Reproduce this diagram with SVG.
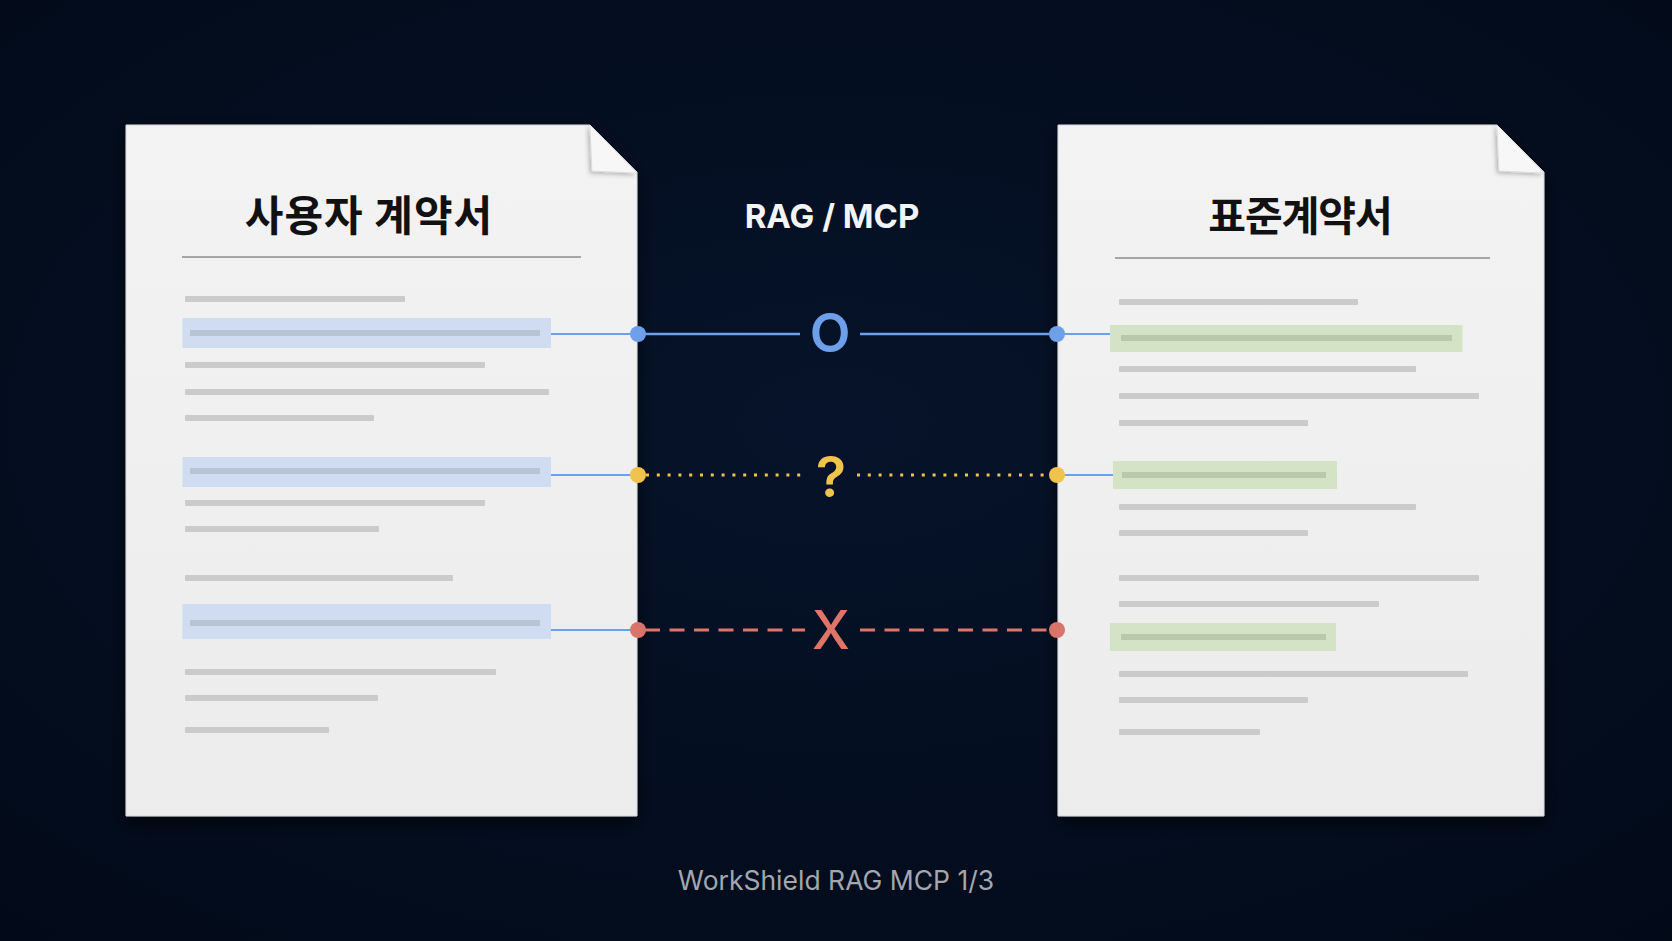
<svg xmlns="http://www.w3.org/2000/svg" width="1672" height="941" viewBox="0 0 1672 941">
<defs>
<radialGradient id="bg" cx="50%" cy="45%" r="75%">
<stop offset="0" stop-color="#06132a"/>
<stop offset="1" stop-color="#020a18"/>
</radialGradient>
<linearGradient id="paper" x1="0" y1="0" x2="0" y2="1">
<stop offset="0" stop-color="#f3f3f3"/>
<stop offset="1" stop-color="#ececec"/>
</linearGradient>
<filter id="shadow" x="-10%" y="-10%" width="120%" height="120%">
<feDropShadow dx="0" dy="6" stdDeviation="9" flood-color="#000" flood-opacity="0.65"/>
</filter>
<filter id="flapShadow" x="-50%" y="-50%" width="200%" height="200%">
<feDropShadow dx="-2" dy="2" stdDeviation="2" flood-color="#000" flood-opacity="0.25"/>
</filter>
</defs>
<style>
.paper{fill:url(#paper);stroke:#d6d6d6;stroke-width:1}
.flap{fill:#f7f7f7;stroke:#dcdcdc;stroke-width:0.8}
.title{font-family:"Noto Sans CJK KR","Noto Sans",sans-serif;font-weight:700;fill:#111;text-anchor:middle}
.rule{stroke:#8c8c8c;stroke-width:1.6}
.ln{fill:#cbcbcb}
.hlb{fill:#cfdcf1}
.hlbi{fill:#b8c3d3}
.hlg{fill:#d4e3c6}
.hlgi{fill:#b7c9a8}
.stub{stroke:#6f9fe6;stroke-width:2;fill:none}
.blue{stroke:#6ea0ea;stroke-width:2.6;fill:none}
.yel{stroke:#f0c44c;stroke-width:3;stroke-dasharray:3 7.8;fill:none}
.red{stroke:#de7568;stroke-width:3;stroke-dasharray:15 9.5;fill:none}
.sym{font-family:Inter,"Liberation Sans",sans-serif;text-anchor:middle}
</style>
<rect width="1672" height="941" fill="url(#bg)"/>

<g id="doc-user">
<path class="paper" filter="url(#shadow)" d="M126,125 L590,125 L637,172 L637,816 L126,816 Z"/>
<path class="flap" filter="url(#flapShadow)" d="M590,125 L592,171 L637,173 Z"/>
<text class="title" x="369" y="231" font-size="42" letter-spacing="1">사용자 계약서</text>
<line class="rule" x1="182" y1="257" x2="581" y2="257"/>
<rect class="ln" x="185" y="296" width="220" height="6" rx="1"/>
<rect class="hlb" x="182.5" y="318" width="368.5" height="30"/>
<rect class="hlbi" x="190" y="330" width="350" height="6"/>
<rect class="ln" x="185" y="362" width="300" height="6" rx="1"/>
<rect class="ln" x="185" y="389" width="364" height="6" rx="1"/>
<rect class="ln" x="185" y="415" width="189" height="6" rx="1"/>
<rect class="hlb" x="182.5" y="457" width="368.5" height="30"/>
<rect class="hlbi" x="190" y="468" width="350" height="6"/>
<rect class="ln" x="185" y="500" width="300" height="6" rx="1"/>
<rect class="ln" x="185" y="526" width="194" height="6" rx="1"/>
<rect class="ln" x="185" y="575" width="268" height="6" rx="1"/>
<rect class="hlb" x="182.5" y="604" width="368.5" height="35"/>
<rect class="hlbi" x="190" y="620" width="350" height="6"/>
<rect class="ln" x="185" y="669" width="311" height="6" rx="1"/>
<rect class="ln" x="185" y="695" width="193" height="6" rx="1"/>
<rect class="ln" x="185" y="727" width="144" height="6" rx="1"/>
</g>

<g id="doc-standard">
<path class="paper" filter="url(#shadow)" d="M1058,125 L1497,125 L1544,172 L1544,816 L1058,816 Z"/>
<path class="flap" filter="url(#flapShadow)" d="M1497,125 L1499,171 L1544,173 Z"/>
<text class="title" x="1300" y="231" font-size="41" letter-spacing="-1">표준계약서</text>
<line class="rule" x1="1115" y1="258" x2="1490" y2="258"/>
<rect class="ln" x="1119" y="299" width="239" height="6" rx="1"/>
<rect class="hlg" x="1110" y="325" width="352.5" height="27"/>
<rect class="hlgi" x="1121" y="335" width="331" height="6"/>
<rect class="ln" x="1119" y="366" width="297" height="6" rx="1"/>
<rect class="ln" x="1119" y="393" width="360" height="6" rx="1"/>
<rect class="ln" x="1119" y="420" width="189" height="6" rx="1"/>
<rect class="hlg" x="1113" y="461" width="224" height="28"/>
<rect class="hlgi" x="1122" y="472" width="204" height="6"/>
<rect class="ln" x="1119" y="504" width="297" height="6" rx="1"/>
<rect class="ln" x="1119" y="530" width="189" height="6" rx="1"/>
<rect class="ln" x="1119" y="575" width="360" height="6" rx="1"/>
<rect class="ln" x="1119" y="601" width="260" height="6" rx="1"/>
<rect class="hlg" x="1110" y="623" width="226" height="28"/>
<rect class="hlgi" x="1121" y="634" width="205" height="6"/>
<rect class="ln" x="1119" y="671" width="349" height="6" rx="1"/>
<rect class="ln" x="1119" y="697" width="189" height="6" rx="1"/>
<rect class="ln" x="1119" y="729" width="141" height="6" rx="1"/>
</g>

<g id="label-rag">
<text x="832" y="228" font-family="Inter,'Liberation Sans',sans-serif" font-weight="700" font-size="33" fill="#f2f4f7" text-anchor="middle">RAG / MCP</text>
</g>

<g id="connectors">
<line class="stub" x1="551" y1="334" x2="637" y2="334"/>
<line class="stub" x1="551" y1="475" x2="637" y2="475"/>
<line class="stub" x1="551" y1="630" x2="637" y2="630"/>
<line class="stub" x1="1057" y1="334" x2="1110" y2="334"/>
<line class="stub" x1="1057" y1="475" x2="1113" y2="475"/>

<line class="blue" x1="638" y1="334" x2="800" y2="334"/>
<line class="blue" x1="860" y1="334" x2="1057" y2="334"/>
<line class="yel" x1="646" y1="475" x2="806" y2="475"/>
<line class="yel" x1="857" y1="475" x2="1050" y2="475"/>
<line class="red" x1="645" y1="630" x2="805" y2="630"/>
<line class="red" x1="860" y1="630" x2="1052" y2="630"/>

<circle cx="638" cy="334" r="8" fill="#6ea0ea"/>
<circle cx="1057" cy="334" r="8" fill="#6ea0ea"/>
<circle cx="638" cy="475" r="8" fill="#f0c24e"/>
<circle cx="1057" cy="475" r="8" fill="#f0c24e"/>
<circle cx="638" cy="630" r="8" fill="#d9746a"/>
<circle cx="1057" cy="630" r="8" fill="#d9746a"/>
</g>

<g id="marks">
<text class="sym" x="830" y="352" font-size="53" font-weight="600" fill="#6ea0ea">O</text>
<text class="sym" x="831" y="497" font-size="56" font-weight="600" fill="#f0c24e">?</text>
<text class="sym" x="831" y="649" font-size="54" font-weight="500" fill="#de7568">X</text>
</g>

<g id="footer">
<text x="836" y="890" font-family="Inter,'Liberation Sans',sans-serif" font-size="26.5" fill="#a3a7ae" text-anchor="middle">WorkShield RAG MCP 1/3</text>
</g>
</svg>
